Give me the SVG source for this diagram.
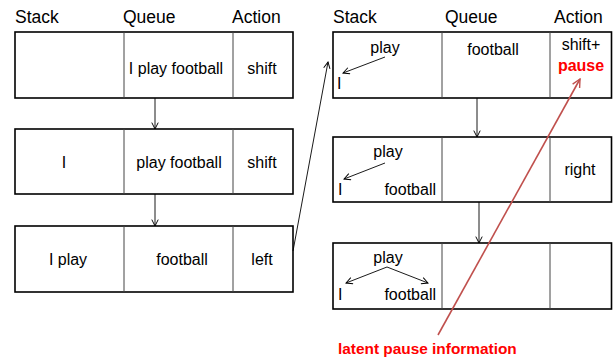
<svg xmlns="http://www.w3.org/2000/svg" width="613" height="358" viewBox="0 0 613 358">
  <style>
    text { font-family: "Liberation Sans", Arial, sans-serif; fill: #000; }
    .hdr { font-size: 17.5px; }
    .cell { font-size: 16px; text-anchor: middle; }
    .lbl { font-size: 16px; }
    .note { font-size: 15.4px; }
    .frame { fill: #fff; stroke: #000; stroke-width: 1.6; }
    .div { stroke: #444; stroke-width: 1; }
    .conn { stroke: #000; stroke-width: 0.9; fill: none; }
    .red { fill: #ff0000; font-weight: bold; }
  </style>
  <defs>
    <marker id="open" viewBox="0 0 10 10" refX="9" refY="5" markerWidth="8" markerHeight="8" markerUnits="userSpaceOnUse" orient="auto">
      <path d="M1,1 L9,5 L1,9" fill="none" stroke="#000" stroke-width="1.2"/>
    </marker>
    <marker id="openRed" viewBox="0 0 10 10" refX="9" refY="5" markerWidth="10" markerHeight="10" markerUnits="userSpaceOnUse" orient="auto">
      <path d="M1,1 L9,5 L1,9" fill="none" stroke="#c0504d" stroke-width="1.4"/>
    </marker>
  </defs>

  <!-- column headers -->
  <g id="headers">
    <text class="hdr" x="15" y="23">Stack</text>
    <text class="hdr" x="123" y="23">Queue</text>
    <text class="hdr" x="232" y="23">Action</text>
    <text class="hdr" x="333" y="23">Stack</text>
    <text class="hdr" x="445" y="23">Queue</text>
    <text class="hdr" x="554" y="23">Action</text>
  </g>

  <!-- left column of states -->
  <g id="left-state-1">
    <rect class="frame" x="15" y="32" width="278" height="66"/>
    <line class="div" x1="124" y1="32" x2="124" y2="98"/>
    <line class="div" x1="233" y1="32" x2="233" y2="98"/>
    <text class="cell" x="176" y="74">I play football</text>
    <text class="cell" x="262" y="74">shift</text>
  </g>
  <g id="left-state-2">
    <rect class="frame" x="15" y="129" width="278" height="65"/>
    <line class="div" x1="124" y1="129" x2="124" y2="194"/>
    <line class="div" x1="233" y1="129" x2="233" y2="194"/>
    <text class="cell" x="64" y="168">I</text>
    <text class="cell" x="179" y="168">play football</text>
    <text class="cell" x="262" y="168">shift</text>
  </g>
  <g id="left-state-3">
    <rect class="frame" x="15" y="226" width="278" height="66"/>
    <line class="div" x1="124" y1="226" x2="124" y2="292"/>
    <line class="div" x1="233" y1="226" x2="233" y2="292"/>
    <text class="cell" x="68" y="265">I play</text>
    <text class="cell" x="182" y="265">football</text>
    <text class="cell" x="262" y="265">left</text>
  </g>

  <!-- right column of states -->
  <g id="right-state-1">
    <rect class="frame" x="333" y="32" width="278.5" height="66"/>
    <line class="div" x1="442" y1="32" x2="442" y2="98"/>
    <line class="div" x1="550" y1="32" x2="550" y2="98"/>
    <text class="cell" x="385" y="53">play</text>
    <text class="lbl" x="337" y="89">I</text>
    <line class="conn" x1="385" y1="57" x2="343" y2="73" marker-end="url(#open)"/>
    <text class="cell" x="493" y="55">football</text>
    <text class="cell" x="581" y="50">shift+</text>
    <text class="cell red" x="581" y="71">pause</text>
  </g>
  <g id="right-state-2">
    <rect class="frame" x="333" y="137" width="278.5" height="65"/>
    <line class="div" x1="442" y1="137" x2="442" y2="202"/>
    <line class="div" x1="550" y1="137" x2="550" y2="202"/>
    <text class="cell" x="388" y="157">play</text>
    <line class="conn" x1="385" y1="163" x2="344" y2="179" marker-end="url(#open)"/>
    <text class="lbl" x="338" y="195">I</text>
    <text class="lbl" x="436" y="195" text-anchor="end">football</text>
    <text class="cell" x="580" y="175">right</text>
  </g>
  <g id="right-state-3">
    <rect class="frame" x="333" y="243" width="278.5" height="66"/>
    <line class="div" x1="442" y1="243" x2="442" y2="309"/>
    <line class="div" x1="550" y1="243" x2="550" y2="309"/>
    <text class="cell" x="388" y="263">play</text>
    <line class="conn" x1="387" y1="267" x2="346" y2="283" marker-end="url(#open)"/>
    <line class="conn" x1="387" y1="267" x2="428" y2="283" marker-end="url(#open)"/>
    <text class="lbl" x="338" y="300">I</text>
    <text class="lbl" x="436" y="300" text-anchor="end">football</text>
  </g>

  <!-- transitions between states -->
  <g id="connectors">
    <line class="conn" x1="155" y1="98" x2="155" y2="129" marker-end="url(#open)"/>
    <line class="conn" x1="155" y1="194" x2="155" y2="226" marker-end="url(#open)"/>
    <line class="conn" x1="293" y1="251" x2="328" y2="62" marker-end="url(#open)"/>
    <line class="conn" x1="477" y1="98" x2="477" y2="137" marker-end="url(#open)"/>
    <line class="conn" x1="479" y1="202" x2="479" y2="243" marker-end="url(#open)"/>
    <line x1="438" y1="335" x2="580" y2="79" stroke="#c0504d" stroke-width="1.6" marker-end="url(#openRed)"/>
  </g>

  <g id="annotation">
    <text class="note red" x="338" y="354">latent pause information</text>
  </g>
</svg>
